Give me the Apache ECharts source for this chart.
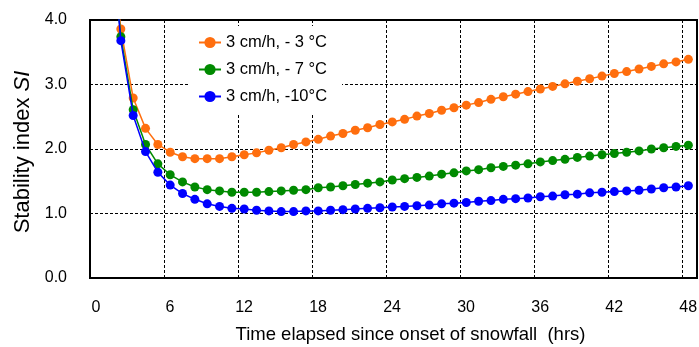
<!DOCTYPE html>
<html>
<head>
<meta charset="utf-8">
<script src="https://cdn.jsdelivr.net/npm/echarts@6/dist/echarts.min.js"></script>
<style>
html,body{margin:0;padding:0;background:#fff;}
#chart{width:699px;height:347px;}
</style>
</head>
<body>
<div id="chart"></div>
<script>
var seriesNames = ['3 cm/h, - 3 °C', '3 cm/h, - 7 °C', '3 cm/h, -10°C'];
var hours = [1.5, 2.5, 3.5, 4.5, 5.5, 6.5, 7.5, 8.5, 9.5, 10.5, 11.5, 12.5, 13.5, 14.5, 15.5, 16.5,
  17.5, 18.5, 19.5, 20.5, 21.5, 22.5, 23.5, 24.5, 25.5, 26.5, 27.5, 28.5, 29.5, 30.5, 31.5, 32.5,
  33.5, 34.5, 35.5, 36.5, 37.5, 38.5, 39.5, 40.5, 41.5, 42.5, 43.5, 44.5, 45.5, 46.5, 47.5, 48.5];
var siMinus3 = [5.7, 3.86, 2.79, 2.32, 2.07, 1.95, 1.88, 1.85, 1.85, 1.85, 1.88, 1.91, 1.94, 1.98, 2.02, 2.07,
  2.11, 2.15, 2.20, 2.24, 2.29, 2.33, 2.38, 2.42, 2.46, 2.51, 2.55, 2.60, 2.64, 2.68, 2.72, 2.77,
  2.81, 2.85, 2.89, 2.93, 2.97, 3.01, 3.05, 3.09, 3.13, 3.17, 3.20, 3.24, 3.28, 3.32, 3.35, 3.39];
var siMinus7 = [5.75, 3.74, 2.61, 2.07, 1.77, 1.60, 1.49, 1.41, 1.37, 1.35, 1.33, 1.33, 1.33, 1.34, 1.35, 1.36,
  1.37, 1.40, 1.41, 1.43, 1.45, 1.47, 1.49, 1.52, 1.54, 1.56, 1.58, 1.61, 1.63, 1.66, 1.68, 1.71,
  1.73, 1.75, 1.77, 1.80, 1.82, 1.84, 1.87, 1.89, 1.91, 1.93, 1.95, 1.97, 2.00, 2.02, 2.04, 2.06];
var siMinus10 = [5.8, 3.68, 2.52, 1.96, 1.64, 1.44, 1.31, 1.22, 1.15, 1.11, 1.08, 1.07, 1.05, 1.04, 1.03, 1.03,
  1.04, 1.04, 1.05, 1.06, 1.07, 1.08, 1.09, 1.10, 1.11, 1.12, 1.13, 1.15, 1.16, 1.17, 1.19, 1.20,
  1.22, 1.23, 1.24, 1.26, 1.27, 1.29, 1.30, 1.32, 1.33, 1.34, 1.35, 1.36, 1.38, 1.40, 1.41, 1.43];
var xTicks = [0, 6, 12, 18, 24, 30, 36, 42, 48];
var yTicks = [0, 1, 2, 3, 4];

var colors = ['#ff6e0e', '#008a00', '#0000ff'];
var allValues = [siMinus3, siMinus7, siMinus10];

function pairs(vals) {
  return hours.map(function (h, i) { return [h, vals[i]]; });
}

var FONT = '"Liberation Sans", Arial, sans-serif';
var chart = echarts.init(document.getElementById('chart'), null, {renderer: 'canvas'});

var series = seriesNames.map(function (name, k) {
  return {
    name: name,
    type: 'line',
    data: pairs(allValues[k]),
    symbol: 'circle',
    symbolSize: 9,
    showAllSymbol: true,
    clip: true,
    color: colors[k],
    lineStyle: {width: 1.5, color: colors[k]},
    itemStyle: {color: colors[k]},
    emphasis: {disabled: true},
    z: 3 + k
  };
});

chart.setOption({
  animation: false,
  backgroundColor: '#ffffff',
  textStyle: {fontFamily: FONT, color: '#000'},
  grid: {
    left: 90, right: 2, top: 20, bottom: 69,
    outerBoundsMode: 'none',
    containLabel: false,
    show: true, borderColor: '#000', borderWidth: 2, backgroundColor: 'transparent'
  },
  legend: {
    orient: 'vertical',
    left: 188, top: 26,
    padding: [8, 15, 8, 10],
    itemGap: 10,
    itemWidth: 22, itemHeight: 14,
    backgroundColor: '#ffffff',
    textStyle: {fontFamily: FONT, fontSize: 16.5, color: '#000'},
    data: seriesNames,
    z: 10
  },
  xAxis: {
    type: 'value',
    min: 0, max: 49.2, interval: 6,
    name: 'Time elapsed since onset of snowfall  (hrs)',
    nameLocation: 'middle',
    nameGap: 47,
    nameTextStyle: {fontFamily: FONT, fontSize: 18.5, color: '#000', padding: [0, 0, 0, 34]},
    axisLine: {show: true, onZero: false, lineStyle: {color: '#000', width: 2}},
    axisTick: {show: false},
    axisLabel: {
      fontFamily: FONT, fontSize: 16, color: '#000', margin: 22,
      showMaxLabel: false,
      padding: [0, 0, 0, 12],
      formatter: function (v) { return xTicks.indexOf(v) >= 0 ? String(v) : ''; }
    },
    splitLine: {show: true, lineStyle: {color: '#000', width: 1, type: [3, 2]}}
  },
  yAxis: {
    type: 'value',
    min: 0, max: 4, interval: 1,
    name: '{a|Stability index }{b|SI}',
    nameLocation: 'middle',
    nameGap: 54,
    nameRotate: 90,
    nameTextStyle: {
      fontFamily: FONT, fontSize: 22, color: '#000',
      padding: [0, 6, 0, 0],
      rich: {
        a: {fontFamily: FONT, fontSize: 22, color: '#000'},
        b: {fontFamily: FONT, fontSize: 22, color: '#000', fontStyle: 'italic'}
      }
    },
    axisLine: {show: true, onZero: false, lineStyle: {color: '#000', width: 2}},
    axisTick: {show: false},
    axisLabel: {
      fontFamily: FONT, fontSize: 16, color: '#000', margin: 23,
      formatter: function (v) { return yTicks.indexOf(v) >= 0 ? v.toFixed(1) : ''; }
    },
    splitLine: {show: true, lineStyle: {color: '#000', width: 1, type: [3, 2]}}
  },
  series: series
});
</script>
</body>
</html>
